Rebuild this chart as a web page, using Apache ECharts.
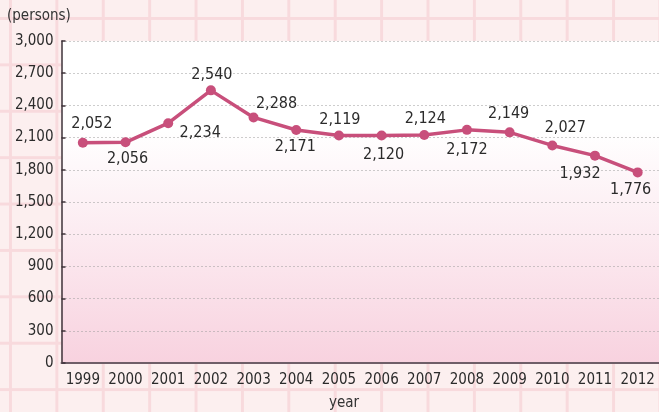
<!DOCTYPE html>
<html>
<head>
<meta charset="utf-8">
<script src="https://cdn.jsdelivr.net/npm/echarts@6/dist/echarts.min.js"></script>
<style>
    html, body {
        margin: 0;
        padding: 0;
    }
    body {
        width: 659px;
        height: 412px;
        overflow: hidden;
        background-color: #fcefef;
        background-image:
            linear-gradient(to right, #f8dadd 0, #f8dadd 3px, transparent 3px),
            linear-gradient(to bottom, #f8dadd 0, #f8dadd 3px, transparent 3px);
        background-size: 46.4px 46.4px;
        background-position: 9px 17px;
    }
    #chart {
        width: 659px;
        height: 412px;
    }
</style>
</head>
<body>
<div id="chart"></div>
<script>
const years = ['1999', '2000', '2001', '2002', '2003', '2004', '2005',
    '2006', '2007', '2008', '2009', '2010', '2011', '2012']
const persons = [2052, 2056, 2234, 2540, 2288, 2171, 2119,
    2120, 2124, 2172, 2149, 2027, 1932, 1776]
const yTicks = [0, 300, 600, 900, 1200, 1500, 1800, 2100, 2400, 2700, 3000]

// where each value label sits relative to its point
const labelOffsets = [
    [9, -19], [2, 17], [32, 10], [1, -16], [23, -14], [-1, 17], [1, -16],
    [2, 19], [1, -16], [0, 20], [-1, -18], [13, -18], [-15, 18], [-7, 17]
]

const chart = echarts.init(document.getElementById('chart'))

const axisFont = '"DejaVu Sans Condensed", sans-serif'
const fmt = v => Number(v).toLocaleString('en-US')

chart.setOption({
    animation: false,
    grid: {
        left: 61.5,
        top: 41,
        width: 605,
        height: 322,
        show: true,
        borderWidth: 0,
        backgroundColor: new echarts.graphic.LinearGradient(0, 0, 0, 1, [
            { offset: 0, color: '#ffffff' },
            { offset: 0.28, color: '#ffffff' },
            { offset: 1, color: '#f8d2df' }
        ])
    },
    graphic: [
        {
            type: 'text',
            left: 7,
            top: 9,
            style: {
                text: '(persons)',
                fill: '#333',
                font: '15px "DejaVu Sans Condensed", sans-serif'
            }
        },
        {
            type: 'text',
            left: 329,
            top: 396,
            style: {
                text: 'year',
                fill: '#333',
                font: '15px "DejaVu Sans Condensed", sans-serif'
            }
        }
    ],
    xAxis: {
        type: 'category',
        data: years,
        boundaryGap: true,
        axisLine: {
            lineStyle: { color: '#6f5e68', width: 2 }
        },
        axisTick: {
            inside: true,
            interval: 0,
            length: 5,
            lineStyle: { color: '#4a3d45', width: 1.5 }
        },
        axisLabel: {
            interval: 0,
            color: '#2b2b2b',
            fontSize: 15,
            fontFamily: axisFont,
            margin: 10
        },
        splitLine: { show: false }
    },
    yAxis: {
        type: 'value',
        min: 0,
        max: 3000,
        interval: 300,
        axisLine: {
            show: true,
            lineStyle: { color: '#3e3239', width: 1.5 }
        },
        axisTick: {
            show: true,
            inside: true,
            length: 4,
            lineStyle: { color: '#3e3239', width: 1.5 }
        },
        axisLabel: {
            color: '#2b2b2b',
            fontSize: 15,
            fontFamily: axisFont,
            margin: 8,
            formatter: v => yTicks.includes(v) ? fmt(v) : ''
        },
        splitLine: {
            lineStyle: { color: '#9a9a9a', type: [1, 3], width: 1 }
        }
    },
    series: [
        {
            type: 'line',
            data: persons.map((v, i) => ({
                value: v,
                label: { offset: labelOffsets[i] }
            })),
            symbol: 'circle',
            symbolSize: 10,
            itemStyle: { color: '#c84f7b' },
            lineStyle: { color: '#c84f7b', width: 3.5 },
            label: {
                show: true,
                position: 'inside',
                align: 'center',
                verticalAlign: 'middle',
                color: '#2b2b2b',
                fontSize: 16,
                fontFamily: '"DejaVu Sans Condensed", sans-serif',
                formatter: p => fmt(p.value)
            }
        }
    ]
})
</script>
</body>
</html>
